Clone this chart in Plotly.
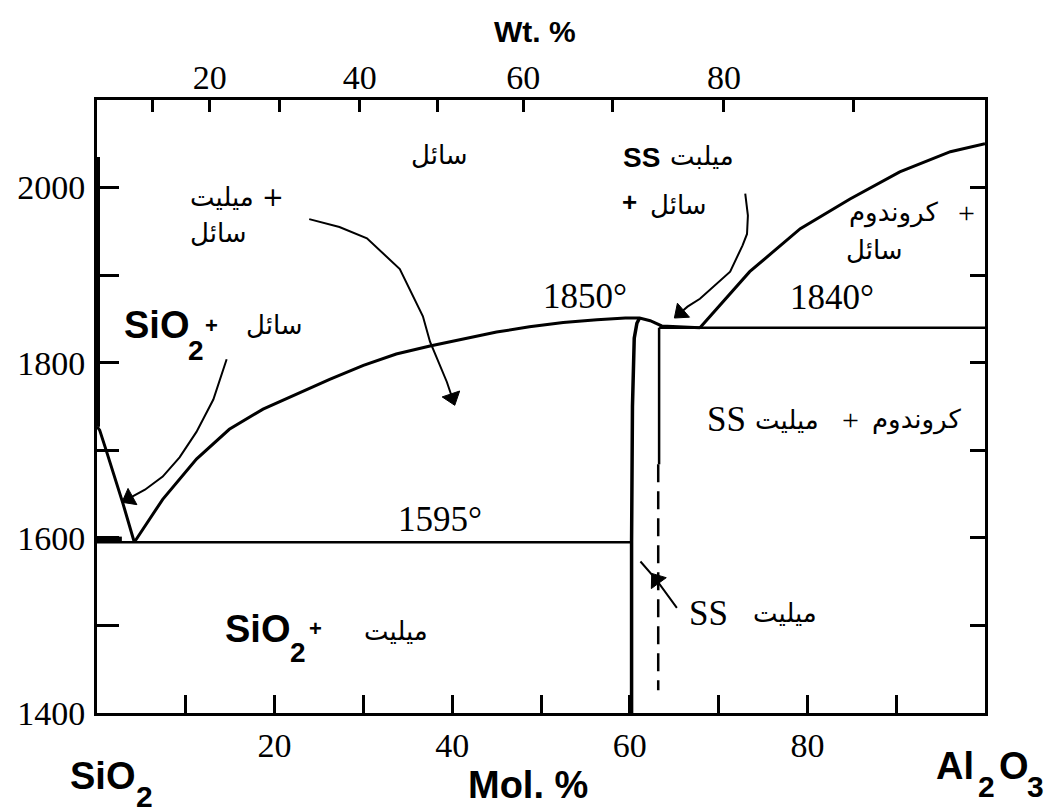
import plotly.graph_objects as go

# --- SiO2-Al2O3 phase diagram data (composition in mol% Al2O3, temperature in degC) ---
sio2_liquidus_x = [0.0, 0.3, 1.0, 2.9, 4.2]
sio2_liquidus_t = [1727, 1723, 1701, 1640, 1595]

sio2_edge_x = [0.0, 0.0]
sio2_edge_t = [1727, 2035]

mullite_liquidus_x = [4.2, 7.4, 11.2, 14.9, 18.7, 22.5, 26.2, 30.0, 33.7, 37.5, 41.2,
                      45.0, 48.7, 52.5, 56.3, 59.5, 61.1, 62.3, 63.6, 67.9]
mullite_liquidus_t = [1595, 1644, 1690, 1724, 1747, 1764, 1781, 1797, 1810, 1819, 1827,
                      1835, 1841, 1846, 1849, 1851, 1851, 1848, 1842, 1840]

corundum_liquidus_x = [67.9, 73.5, 79.2, 84.8, 90.4, 96.1, 100.0]
corundum_liquidus_t = [1840, 1904, 1953, 1987, 2018, 2041, 2050]

eutectic_x = [0.0, 60.2]
eutectic_t = [1595, 1595]

silica_bar_x = [0.0, 2.8]
silica_bar_t = [1598, 1598]

peritectic_x = [63.3, 100.0]
peritectic_t = [1840, 1840]

mullite_left_x = [60.2, 60.2, 60.3, 60.5, 60.8, 61.1]
mullite_left_t = [1400, 1595, 1750, 1828, 1845, 1851]

mullite_right_solid_x = [63.3, 63.3]
mullite_right_solid_t = [1840, 1684]
mullite_right_dash_x = [63.2, 63.2]
mullite_right_dash_t = [1684, 1426]

# curved leader lines from region labels (last point of each carries the arrow head)
leader_a_x = [23.9, 27.3, 30.4, 34.1, 36.7, 37.5, 39.4, 40.0]
leader_a_t = [1964, 1955, 1942, 1907, 1853, 1824, 1778, 1760]
leader_b_x = [14.6, 13.1, 11.2, 9.3, 7.4, 5.4, 3.6]
leader_b_t = [1804, 1758, 1721, 1692, 1670, 1655, 1645]
leader_c_x = [73.0, 73.3, 73.2, 72.7, 71.3, 67.9, 66.5, 65.7]
leader_c_t = [1993, 1968, 1947, 1934, 1904, 1873, 1864, 1857]
# straight pointer with its head part-way along
leader_d_x = [65.3, 63.0, 61.2]
leader_d_t = [1520, 1552, 1573]

# axis ticks: labelled (major) and unlabelled (minor)
mol_tick_vals = [20, 40, 60, 80]
mol_tick_text = ["20", "40", "60", "80"]
mol_minor_vals = [10, 30, 50, 70, 90]
wt_tick_pos = [12.7, 29.6, 48.0, 70.6]
wt_tick_text = ["20", "40", "60", "80"]
wt_minor_pos = [6.2, 20.5, 38.3, 58.0, 85.2]
temp_tick_vals = [1400, 1600, 1800, 2000]
temp_tick_text = ["1400", "1600", "1800", "2000"]
temp_minor_vals = [1500, 1700, 1900]

SERIF = "Liberation Serif"
SANS = "Liberation Sans"
FA = "DejaVu Sans"

fig = go.Figure()


def add_line(x, y, width=3, dash="solid"):
    fig.add_trace(go.Scatter(x=x, y=y, mode="lines",
                             line=dict(color="black", width=width, dash=dash),
                             hoverinfo="skip", showlegend=False))


def add_pointer(x, y, head_index):
    sizes = [0] * len(x)
    sizes[head_index] = 16
    fig.add_trace(go.Scatter(x=x, y=y, mode="lines+markers",
                             line=dict(color="black", width=2),
                             marker=dict(symbol="triangle-up", size=sizes, color="black",
                                         opacity=1, angleref="previous",
                                         line=dict(width=1, color="black")),
                             hoverinfo="skip", showlegend=False))


add_line(sio2_liquidus_x, sio2_liquidus_t)
add_line(sio2_edge_x, sio2_edge_t, width=6)
add_line(mullite_liquidus_x, mullite_liquidus_t)
add_line(corundum_liquidus_x, corundum_liquidus_t)
add_line(eutectic_x, eutectic_t, width=2.5)
add_line(silica_bar_x, silica_bar_t, width=6)
add_line(peritectic_x, peritectic_t, width=2.5)
add_line(mullite_left_x, mullite_left_t, width=3.5)
add_line(mullite_right_solid_x, mullite_right_solid_t, width=2.5)
add_line(mullite_right_dash_x, mullite_right_dash_t, width=2.5, dash="18px,9px")
add_pointer(leader_a_x, leader_a_t, len(leader_a_x) - 1)
add_pointer(leader_b_x, leader_b_t, len(leader_b_x) - 1)
add_pointer(leader_c_x, leader_c_t, len(leader_c_x) - 1)
add_pointer(leader_d_x, leader_d_t, 1)

# invisible trace so the top and right axes are laid out
fig.add_trace(go.Scatter(x=[0, 100], y=[1400, 1400], xaxis="x2", yaxis="y2", mode="lines",
                         line=dict(width=0), hoverinfo="skip", showlegend=False))

annotations = []


def txt(x, y, text, size, family, xanchor="center", yanchor="middle", ref="data"):
    annotations.append(dict(
        x=x, y=y, text=text, showarrow=False,
        xref="x" if ref == "data" else "paper",
        yref="y" if ref == "data" else "paper",
        xanchor=xanchor, yanchor=yanchor,
        font=dict(family=family, size=size, color="black")))


# region labels
txt(38.6, 2037, "سائل", 26, FA)
txt(10.2, 1989, "میلیت +", 26, FA, xanchor="left")
txt(10.2, 1948, "سائل", 26, FA, xanchor="left")
# SiO2 + liquid (formula set piecewise: symbol, subscript, plus)
txt(2.8, 1843, "<b>SiO</b>", 38, SANS, xanchor="left")
txt(11.1, 1814, "<b>2</b>", 28, SANS)
txt(12.9, 1843, "<b>+</b>", 22, SANS)
txt(20.0, 1843, "سائل", 26, FA)
txt(54.9, 1876, "1850°", 35, SERIF)
txt(61.3, 2034, "<b>SS</b>", 28, SANS)
txt(68.1, 2036, "میلبت", 26, FA)
txt(60.0, 1983, "<b>+</b>", 26, SANS)
txt(65.5, 1980, "سائل", 26, FA)
txt(89.7, 1972, "کروندوم", 26, FA)
txt(97.9, 1972, "+", 30, SERIF)
txt(87.6, 1929, "سائل", 26, FA)
txt(82.8, 1874, "1840°", 35, SERIF)
txt(70.9, 1735, "SS", 35, SERIF)
txt(77.7, 1735, "میلیت", 26, FA)
txt(84.8, 1735, "+", 30, SERIF)
txt(92.3, 1735, "کروندوم", 26, FA)
txt(38.6, 1621, "1595°", 35, SERIF)
txt(68.9, 1514, "SS", 35, SERIF)
txt(77.5, 1514, "میلیت", 26, FA)
# SiO2 + mullite
txt(14.2, 1496, "<b>SiO</b>", 38, SANS, xanchor="left")
txt(22.6, 1469, "<b>2</b>", 28, SANS)
txt(24.6, 1496, "<b>+</b>", 22, SANS)
txt(33.7, 1494, "میلیت", 26, FA)

# axis titles
txt(0.493, 1.112, "<b>Wt. %</b>", 30, SANS, ref="paper")
txt(0.485, -0.118, "<b>Mol. %</b>", 38, SANS, ref="paper")
# end members SiO2 and Al2O3 under the composition axis
txt(-0.033, -0.103, "<b>SiO</b>", 38, SANS, xanchor="left", ref="paper")
txt(0.054, -0.136, "<b>2</b>", 30, SANS, ref="paper")
txt(0.943, -0.087, "<b>Al</b>", 38, SANS, xanchor="left", ref="paper")
txt(1.0015, -0.12, "<b>2</b>", 30, SANS, ref="paper")
txt(1.0135, -0.087, "<b>O</b>", 38, SANS, xanchor="left", ref="paper")
txt(1.0565, -0.12, "<b>3</b>", 30, SANS, ref="paper")

axis_common = dict(showgrid=False, zeroline=False, showline=True, linecolor="black",
                   linewidth=3, ticks="inside", tickcolor="black", tickwidth=2.5)


def minor_ticks(vals, length):
    return dict(tickvals=vals, ticks="inside", ticklen=length, tickwidth=2.5,
                tickcolor="black", showgrid=False)


fig.update_layout(
    width=1048, height=812,
    margin=dict(l=97, r=63, t=100, b=99),
    paper_bgcolor="white", plot_bgcolor="white",
    showlegend=False,
    annotations=annotations,
    xaxis=dict(range=[0, 100], tickvals=mol_tick_vals, ticktext=mol_tick_text,
               ticklen=18, ticklabelstandoff=0, minor=minor_ticks(mol_minor_vals, 18),
               tickfont=dict(family=SERIF, size=34, color="black"), **axis_common),
    xaxis2=dict(range=[0, 100], overlaying="x", side="top", tickvals=wt_tick_pos,
                ticktext=wt_tick_text, ticklen=12, ticklabelstandoff=-6,
                minor=minor_ticks(wt_minor_pos, 12),
                tickfont=dict(family=SERIF, size=34, color="black"), **axis_common),
    yaxis=dict(range=[1400, 2100], tickvals=temp_tick_vals, ticktext=temp_tick_text,
               ticklen=22, ticklabelstandoff=2, minor=minor_ticks(temp_minor_vals, 22),
               tickfont=dict(family=SERIF, size=34, color="black"), **axis_common),
    yaxis2=dict(range=[1400, 2100], overlaying="y", side="right",
                tickvals=temp_tick_vals + temp_minor_vals,
                ticklen=15, showticklabels=False, **axis_common),
)

fig.write_html("out.html")
